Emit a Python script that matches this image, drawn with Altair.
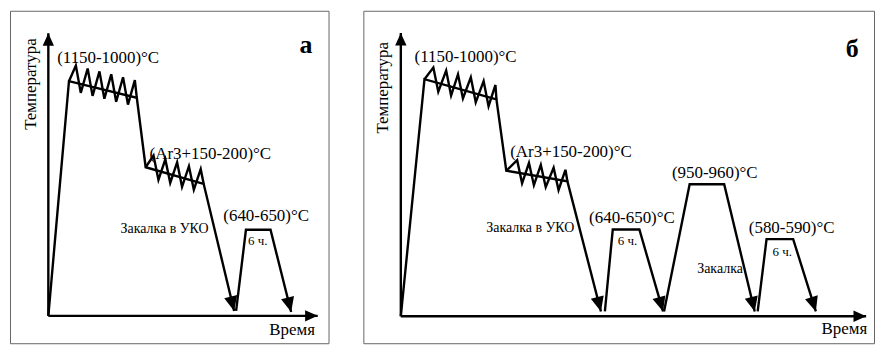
import math
import altair as alt
import pandas as pd

FONT = "'Liberation Serif', 'Times New Roman', Times, serif"

# ===================== Panel а  (schematic time / temperature units) =====================
a_time_domain = [-39, 285]
a_temp_domain = [-28, 312]
a_axis_time_end = 274
a_axis_temp_end = 289

a_route_time = [0, 21, 90, 99, 158, 189]
a_route_temp = [0, 240, 223, 152, 135, 5]
a_temper_time = [191, 201, 226, 247]
a_temper_temp = [5, 88, 88, 4]
a_saw1_time = [21, 28, 33, 40, 45, 52, 57, 64, 69, 76, 81, 88, 90]
a_saw1_temp = [240, 256, 228, 253, 225, 250, 222, 247, 219, 244, 216, 241, 223]
a_saw2_time = [99, 107, 112, 119, 124, 131, 136, 143, 148, 155, 158]
a_saw2_temp = [152, 164, 139, 160, 136, 157, 132, 153, 129, 150, 135]

a_label_text = ["(1150-1000)°C", "(Ar3+150-200)°C", "(640-650)°C"]
a_label_time = [9, 103, 178]
a_label_temp = [264, 166, 102]
a_note_text = ["Закалка в УКО"]
a_note_time = [163]
a_note_temp = [89]
a_small_text = ["6 ч."]
a_small_time = [213]
a_small_temp = [77]
a_letter = ["а"]
a_letter_time = [262]
a_letter_temp = [277]
a_xtitle_pos = [248, -15]
a_ytitle_pos = [-18, 237]

# ===================== Panel б =====================
b_time_domain = [-38, 480]
b_temp_domain = [-28, 317]
b_axis_time_end = 472
b_axis_temp_end = 294

b_route_time = [0, 24, 97, 107, 169, 203]
b_route_temp = [0, 246, 225, 151, 140, 5]
b_temper1_time = [207, 215, 242, 266]
b_temper1_temp = [5, 90, 90, 5]
b_quench_time = [267, 293, 328, 359]
b_quench_temp = [5, 137, 137, 5]
b_temper2_time = [362, 371, 398, 421]
b_temper2_temp = [5, 80, 80, 5]
b_saw1_time = [24, 33, 38, 46, 51, 58, 63, 71, 76, 84, 89, 96, 97]
b_saw1_temp = [246, 258, 233, 255, 229, 251, 226, 248, 222, 244, 218, 240, 225]
b_saw2_time = [107, 118, 123, 130, 135, 142, 147, 155, 160, 167, 169]
b_saw2_temp = [151, 162, 138, 159, 136, 157, 134, 154, 131, 152, 140]

b_label_text = ["(1150-1000)°C", "(Ar3+150-200)°C", "(640-650)°C", "(950-960)°C", "(580-590)°C"]
b_label_time = [14, 111, 191, 275, 353]
b_label_temp = [269, 170, 102, 149, 92]
b_note_text = ["Закалка в УКО", "Закалка"]
b_note_time = [176, 347]
b_note_temp = [92, 49]
b_small_text = ["6 ч.", "6 ч."]
b_small_time = [230, 387]
b_small_temp = [78, 67]
b_letter = ["б"]
b_letter_time = [458]
b_letter_temp = [277]
b_xtitle_pos = [450, -13]
b_ytitle_pos = [-18, 237]

X_TITLE = "Время"
Y_TITLE = "Температура"
ARROW_SHAPE = "M0,0L0.9,2L-0.9,2Z"


def build_panel(tdom, Tdom, width, height, paths, saws, axis_t_end, axis_T_end,
                labels, notes, smalls, letter, xtitle_pos, ytitle_pos):
    kx = width / (tdom[1] - tdom[0])
    ky = height / (Tdom[1] - Tdom[0])
    axes = [([0, axis_t_end], [0, 0]), ([0, 0], [0, axis_T_end])]
    rows = []
    for seg, (ts, Ts) in enumerate(paths + saws + axes):
        for i, (t, T) in enumerate(zip(ts, Ts)):
            rows.append({"seg": seg, "i": i, "t": t, "T": T})
    line_df = pd.DataFrame(rows)

    arr = []
    for ts, Ts in paths:
        dx = (ts[-1] - ts[-2]) * kx
        dyu = (Ts[-1] - Ts[-2]) * ky
        ang = math.degrees(math.atan2(dx, dyu)) % 360
        arr.append({"t": ts[-1], "T": Ts[-1], "ang": ang, "sz": 220})
    arr.append({"t": axis_t_end, "T": 0, "ang": 90, "sz": 160})
    arr.append({"t": 0, "T": axis_T_end, "ang": 0, "sz": 160})
    arrow_df = pd.DataFrame(arr)

    x = alt.X("t:Q", scale=alt.Scale(domain=tdom, nice=False, zero=False), axis=None)
    y = alt.Y("T:Q", scale=alt.Scale(domain=Tdom, nice=False, zero=False), axis=None)

    lines = alt.Chart(line_df).mark_line(
        color="black", strokeWidth=2.4, strokeJoin="miter"
    ).encode(x=x, y=y, detail="seg:N", order="i:Q")

    arrows = alt.Chart(arrow_df).mark_point(
        shape=ARROW_SHAPE, filled=True, color="black", opacity=1, strokeWidth=0
    ).encode(x=x, y=y, angle=alt.Angle("ang:Q", scale=None), size=alt.Size("sz:Q", scale=None))

    def text_layer(texts, ts, Ts, **kw):
        df = pd.DataFrame({"label": texts, "t": ts, "T": Ts})
        return alt.Chart(df).mark_text(font=FONT, color="black", baseline="middle", **kw).encode(
            x=x, y=y, text="label:N")

    lab = text_layer(*labels, fontSize=17, align="left")
    nts = text_layer(*notes, fontSize=14, align="right")
    sml = text_layer(*smalls, fontSize=13, align="center")
    let = text_layer(*letter, fontSize=26, fontWeight="bold", align="center")
    xt = text_layer([X_TITLE], [xtitle_pos[0]], [xtitle_pos[1]], fontSize=17, align="center")
    yt = text_layer([Y_TITLE], [ytitle_pos[0]], [ytitle_pos[1]], fontSize=17, align="center", angle=270)

    return alt.layer(lines, arrows, lab, nts, sml, let, xt, yt).properties(width=width, height=height)


panel_a = build_panel(
    a_time_domain, a_temp_domain, 320, 334,
    [(a_route_time, a_route_temp), (a_temper_time, a_temper_temp)],
    [(a_saw1_time, a_saw1_temp), (a_saw2_time, a_saw2_temp)],
    a_axis_time_end, a_axis_temp_end,
    (a_label_text, a_label_time, a_label_temp),
    (a_note_text, a_note_time, a_note_temp),
    (a_small_text, a_small_time, a_small_temp),
    (a_letter, a_letter_time, a_letter_temp),
    a_xtitle_pos, a_ytitle_pos,
)

panel_b = build_panel(
    b_time_domain, b_temp_domain, 513, 334,
    [(b_route_time, b_route_temp), (b_temper1_time, b_temper1_temp),
     (b_quench_time, b_quench_temp), (b_temper2_time, b_temper2_temp)],
    [(b_saw1_time, b_saw1_temp), (b_saw2_time, b_saw2_temp)],
    b_axis_time_end, b_axis_temp_end,
    (b_label_text, b_label_time, b_label_temp),
    (b_note_text, b_note_time, b_note_temp),
    (b_small_text, b_small_time, b_small_temp),
    (b_letter, b_letter_time, b_letter_temp),
    b_xtitle_pos, b_ytitle_pos,
)

chart = alt.hconcat(panel_a, panel_b, spacing=33).properties(
    padding={"left": 1, "top": 1, "right": 0, "bottom": 0},
    background="white",
).configure_view(stroke="#666666", strokeWidth=1)

chart.save("out.html", embed_options={"renderer": "svg", "actions": False})
